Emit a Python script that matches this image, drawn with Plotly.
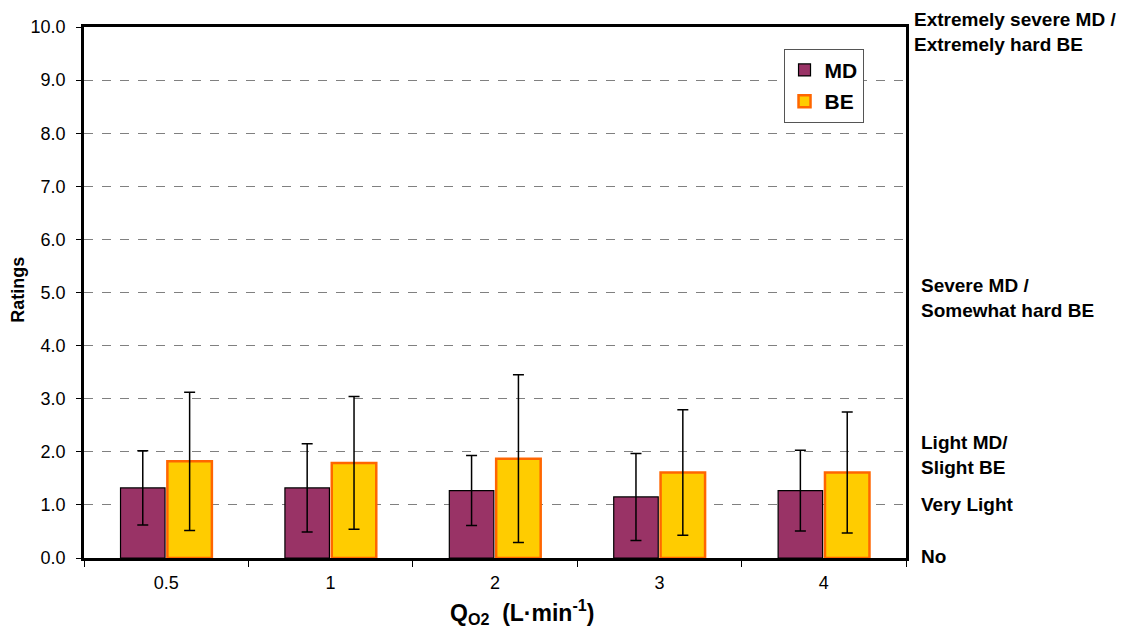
import plotly.graph_objects as go

categories = ["0.5", "1", "2", "3", "4"]
md_values = [1.32, 1.32, 1.27, 1.15, 1.27]
md_errors = [0.70, 0.83, 0.66, 0.82, 0.76]
be_values = [1.82, 1.79, 1.87, 1.61, 1.61]
be_errors = [1.30, 1.25, 1.58, 1.18, 1.14]
y_ticks = [0, 1, 2, 3, 4, 5, 6, 7, 8, 9, 10]
scale_labels = [
    (10, "Extremely severe MD /<br>Extremely hard BE", 6, -5),
    (5, "Severe MD /<br>Somewhat hard BE", 13, -5),
    (2, "Light MD/<br>Slight BE", 13, -3),
    (1, "Very Light", 13, 0),
    (0, "No", 13, 2),
]

FONT = "Liberation Sans, Arial, sans-serif"

fig = go.Figure()
fig.add_trace(go.Bar(
    name="MD", x=categories, y=md_values, legendgroup="md",
    marker=dict(color="#993366", line=dict(color="#000000", width=1.2)),
    error_y=dict(type="data", array=md_errors, visible=True, color="#000000", thickness=1.5, width=5.5),
))
fig.add_trace(go.Bar(
    name="BE", x=categories, y=be_values, legendgroup="be",
    marker=dict(color="#FFCC00", line=dict(color="#FF6600", width=2.5)),
    error_y=dict(type="data", array=be_errors, visible=True, color="#000000", thickness=1.5, width=5.5),
))

for yv, txt, xs, ys in scale_labels:
    fig.add_annotation(x=1, xref="paper", y=yv, yref="y", text="<b>" + txt + "</b>",
                       showarrow=False, xanchor="left", yanchor="middle", align="left",
                       xshift=xs, yshift=ys, font=dict(family=FONT, size=19, color="#000000"))

# axis titles placed as annotations for exact position
fig.add_annotation(x=0.533, xref="paper", y=-0.1017, yref="paper",
                   text="<b>Q<sub>O2</sub>  (L·min<sup>-1</sup>)</b>", showarrow=False,
                   xanchor="center", yanchor="middle", font=dict(family=FONT, size=23, color="#000000"))
fig.add_annotation(x=-0.0803, xref="paper", y=0.505, yref="paper",
                   text="<b>Ratings</b>", showarrow=False, textangle=-90,
                   xanchor="center", yanchor="middle", font=dict(family=FONT, size=18, color="#000000"))

fig.update_layout(
    width=1129, height=633,
    margin=dict(l=84, r=223, t=27, b=75),
    paper_bgcolor="white", plot_bgcolor="white",
    barmode="group", bargap=0.43, bargroupgap=0.05,
    font=dict(family=FONT, size=18, color="#000000"),
    legend=dict(x=0.851, y=0.959, xanchor="left", yanchor="top",
                bgcolor="white", bordercolor="#555555", borderwidth=1,
                font=dict(family=FONT, size=21, color="#000000", weight="bold"),
                traceorder="grouped", tracegroupgap=1),
    xaxis=dict(
        type="category", showline=True, linecolor="#000000", linewidth=2.5, mirror=True,
        ticks="outside", tickson="boundaries", ticklen=6, tickcolor="#000000",
        tickfont=dict(family=FONT, size=18), ticklabelstandoff=7, automargin=False,
    ),
    yaxis=dict(
        range=[0, 10], tickvals=y_ticks, tickformat=".1f",
        showline=True, linecolor="#000000", linewidth=2.5, mirror=True,
        ticks="outside", ticklen=5, tickcolor="#000000",
        tickfont=dict(family=FONT, size=18), ticklabelstandoff=7, automargin=False,
        showgrid=True, gridcolor="#808080", gridwidth=1, griddash="dash",
        zeroline=False,
    ),
)

fig.write_html("out.html")
